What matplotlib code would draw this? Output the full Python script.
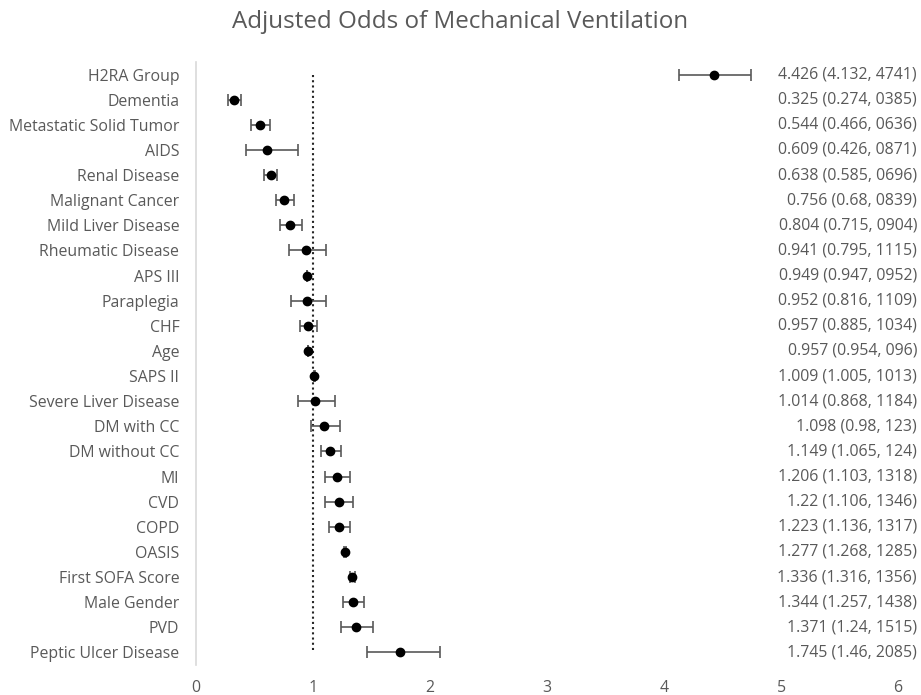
import matplotlib
matplotlib.use("Agg")
import matplotlib.pyplot as plt
from matplotlib.transforms import blended_transform_factory

categories = ["H2RA Group", "Dementia", "Metastatic Solid Tumor", "AIDS", "Renal Disease",
              "Malignant Cancer", "Mild Liver Disease", "Rheumatic Disease", "APS III",
              "Paraplegia", "CHF", "Age", "SAPS II", "Severe Liver Disease", "DM with CC",
              "DM without CC", "MI", "CVD", "COPD", "OASIS", "First SOFA Score",
              "Male Gender", "PVD", "Peptic Ulcer Disease"]
odds = [4.426, 0.325, 0.544, 0.609, 0.638, 0.756, 0.804, 0.941, 0.949, 0.952, 0.957,
        0.957, 1.009, 1.014, 1.098, 1.149, 1.206, 1.22, 1.223, 1.277, 1.336, 1.344,
        1.371, 1.745]
lower = [4.132, 0.274, 0.466, 0.426, 0.585, 0.68, 0.715, 0.795, 0.947, 0.816, 0.885,
         0.954, 1.005, 0.868, 0.98, 1.065, 1.103, 1.106, 1.136, 1.268, 1.316, 1.257,
         1.24, 1.46]
upper = [4.741, 0.385, 0.636, 0.871, 0.696, 0.839, 0.904, 1.115, 0.952, 1.109, 1.034,
         0.96, 1.013, 1.184, 1.23, 1.24, 1.318, 1.346, 1.317, 1.285, 1.356, 1.438,
         1.515, 2.085]
ci_labels = ["4.426 (4.132, 4741)", "0.325 (0.274, 0385)", "0.544 (0.466, 0636)",
             "0.609 (0.426, 0871)", "0.638 (0.585, 0696)", "0.756 (0.68, 0839)",
             "0.804 (0.715, 0904)", "0.941 (0.795, 1115)", "0.949 (0.947, 0952)",
             "0.952 (0.816, 1109)", "0.957 (0.885, 1034)", "0.957 (0.954, 096)",
             "1.009 (1.005, 1013)", "1.014 (0.868, 1184)", "1.098 (0.98, 123)",
             "1.149 (1.065, 124)", "1.206 (1.103, 1318)", "1.22 (1.106, 1346)",
             "1.223 (1.136, 1317)", "1.277 (1.268, 1285)", "1.336 (1.316, 1356)",
             "1.344 (1.257, 1438)", "1.371 (1.24, 1515)", "1.745 (1.46, 2085)"]
xticks = [0, 1, 2, 3, 4, 5, 6]
reference_value = 1

plt.rcParams['font.family'] = ['Open Sans', 'DejaVu Sans']
text_color = "#595959"
fs = 11.4

fig = plt.figure(figsize=(9.21, 6.95), dpi=100)
ax = fig.add_axes([196/921, 1 - 665/695, (898-196)/921, (665-62)/695])

y = list(range(len(categories)))
xerr = [[o - l for o, l in zip(odds, lower)], [u - o for o, u in zip(odds, upper)]]

ax.plot([reference_value, reference_value], [y[0], y[-1]], linestyle=(0, (1, 1.5)),
        color="#262626", linewidth=1.5, zorder=1)
ax.errorbar(odds, y, xerr=xerr, fmt='o', color='black', markersize=6,
            ecolor="#595959", elinewidth=1.2, capsize=4, capthick=1.2, zorder=3)

ax.set_xlim(0, 6)
ax.set_ylim(len(categories) - 0.5, -0.5)
ax.set_yticks(y)
ax.set_yticklabels(categories)
ax.set_xticks(xticks)
ax.set_xticklabels([str(t) for t in xticks])
ax.tick_params(axis='both', length=0, labelsize=fs, colors=text_color)
ax.tick_params(axis='y', pad=12)
ax.tick_params(axis='x', pad=11)
for s in ['top', 'right', 'bottom']:
    ax.spines[s].set_visible(False)
ax.spines['left'].set_color("#d9d9d9")
ax.spines['left'].set_linewidth(1.2)

trans = blended_transform_factory(fig.transFigure, ax.transData)
for yi, lab in zip(y, ci_labels):
    ax.text(917/921, yi, lab, transform=trans, ha='right', va='center',
            fontsize=fs, color=text_color)

fig.text(0.5, 1 - 22/695, "Adjusted Odds of Mechanical Ventilation", ha='center',
         va='center', fontsize=17.4, color=text_color)

fig.savefig("out.png", dpi=100)
